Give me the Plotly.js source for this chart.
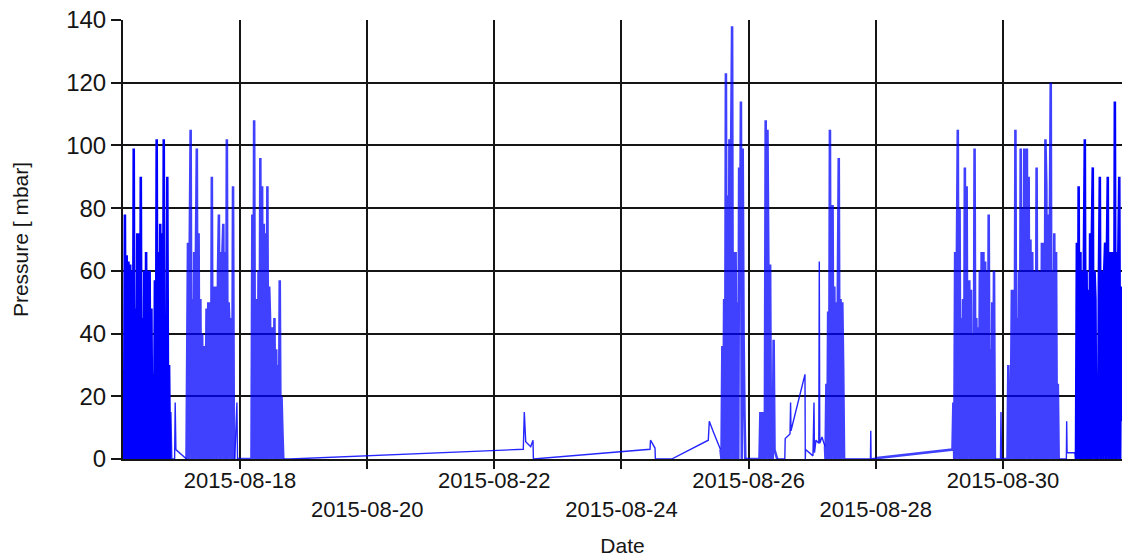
<!DOCTYPE html>
<html>
<head>
<meta charset="utf-8">
<script src="https://cdn.plot.ly/plotly-3.0.1.min.js"></script>
<style>
  html, body { margin: 0; padding: 0; background: #ffffff; }
  #chart { width: 1122px; height: 557px; }
</style>
</head>
<body>
<div id="chart"></div>
<script>
// ---- Data (pressure in mbar) ----
// Dense logging blocks: start time + readings every 20 minutes
const sampleMinutes = 20;

const block1Start = '2015-08-16 04:13';
const block1 = [0,78,0,65,0,63,0,62,0,60, 0,99,0,48,0,72,0,72,0,90, 0,45,0,60,0,66,0,60,0,60, 0,48,0,27,0,57,0,102,0,66, 0,75,0,72,0,102,0,45,0,90, 0,30,0];

const sparse1Times = ['2015-08-16 21:55','2015-08-16 22:15','2015-08-16 23:19','2015-08-16 23:32','2015-08-16 23:48','2015-08-17 03:48'];
const sparse1Values = [15,0,0,18,3,0];

const block2Start = '2015-08-17 04:22';
const block2 = [69,0,69,105,0,51,0,66,0,66, 99,0,72,0,51,0,40,0,36,0, 9,48,0,50,0,50,0,90,0,55, 45,0,55,0,60,78,0,66,0,66, 75,0,66,0,102,0,50,42,0,45, 0,87,0,0];

const sparse2Times = ['2015-08-17 22:50','2015-08-17 23:03'];
const sparse2Values = [18,0];

const block3Start = '2015-08-18 04:20';
const block3 = [0,78,0,108,9,0,51,0,60,0, 96,0,87,0,75,0,72,0,87,0, 55,45,0,25,42,0,45,0,35,0, 30,0,57,0,20,9,0];

const sparse3Times = ['2015-08-18 18:52','2015-08-22 10:56','2015-08-22 11:19','2015-08-22 11:51','2015-08-22 13:44','2015-08-22 14:36','2015-08-22 14:45','2015-08-24 10:46','2015-08-24 10:57','2015-08-24 12:39','2015-08-24 12:48','2015-08-24 18:57','2015-08-25 08:46','2015-08-25 09:09','2015-08-25 10:39','2015-08-25 13:22'];
const sparse3Values = [0,3.1,15,5.5,3.9,6,0,3.1,6,3.5,0,0,6,12,8.7,3];

const block4Start = '2015-08-25 13:45';
const block4 = [0,36,0,51,0,123,0,84,0,102, 0,102,138,0,66,0,66,0,50,0, 93,60,114,0,99,40,15,0];

const block4bStart = '2015-08-26 04:06';
const block4b = [0,15,0,15,0,15,0,108,0,105, 62,0,62,0,20,0,38,3,2,1, 0];

const sparse4Times = ['2015-08-26 13:39','2015-08-26 13:48','2015-08-26 15:37','2015-08-26 15:50','2015-08-26 15:59','2015-08-26 21:16','2015-08-26 21:23','2015-08-26 21:30','2015-08-27 00:17','2015-08-27 00:40','2015-08-27 00:51','2015-08-27 01:25','2015-08-27 02:29','2015-08-27 02:40','2015-08-27 02:51','2015-08-27 03:41','2015-08-27 04:49'];
const sparse4Values = [0,6.5,8,18,9,27,0,3,1,18,2,6,5,63,5,7,4];

const block4cStart = '2015-08-27 05:01';
const block4c = [0,24,0,47,0,105,0,60,81,0, 55,0,50,0,55,96,0,51,0,50, 29,0,0];

const sparse5Times = ['2015-08-27 21:59','2015-08-27 22:06','2015-08-27 22:13','2015-08-28 00:27'];
const sparse5Values = [0,9,0,0.3];

const block5Start = '2015-08-29 04:57';
const block5 = [3,18,0,66,0,66,105,0,80,0, 45,0,51,0,93,0,87,0,50,57, 0,54,0,40,0,99,0,45,0,42, 0,60,0,66,0,66,0,63,0,60, 0,78,0,35,0,50,0,60,0];

const sparse6Times = ['2015-08-29 23:04','2015-08-29 23:15','2015-08-29 23:27'];
const sparse6Values = [0,15,0];

const block6Start = '2015-08-30 01:42';
const block6 = [0,30,0,0,20,54,0,54,0,105, 0,45,0,60,0,99,0,80,0,99, 0,60,99,0,90,0,70,0,66,30, 0,60,0,93,0,60,0,60,0,69, 0,69,0,102,87,0,78,0,75,120, 0,60,0,72,0,66,0,24,0,0];

const sparse7Times = ['2015-08-30 23:56','2015-08-31 00:03','2015-08-31 00:12','2015-08-31 03:23'];
const sparse7Values = [0,12,2,2];

const block7Start = '2015-08-31 03:34';
const block7 = [0,69,0,87,0,66,0,60,0,66, 102,0,60,0,54,0,72,0,72,93, 0,60,51,0,23,0,60,90,0,60, 36,0,60,69,0,66,90,0,66,0, 66,0,66,0,114,0,66,0,66,90, 0,55,12];

// Axis ticks
const tickDates = ['2015-08-18','2015-08-20','2015-08-22','2015-08-24','2015-08-26','2015-08-28','2015-08-30'];
const tickLabels = ['2015-08-18','2015-08-20','2015-08-22','2015-08-24','2015-08-26','2015-08-28','2015-08-30'];
const xRange = ['2015-08-16 03:50','2015-08-31 20:56'];
const yTicks = [0,20,40,60,80,100,120,140];

// ---- helpers ----
function parseT(s) {
  const m = s.match(/(\d+)-(\d+)-(\d+) (\d+):(\d+)/);
  return Date.UTC(+m[1], +m[2]-1, +m[3], +m[4], +m[5]);
}
function fmt(ms) {
  const d = new Date(ms);
  const p = n => String(n).padStart(2,'0');
  return d.getUTCFullYear()+'-'+p(d.getUTCMonth()+1)+'-'+p(d.getUTCDate())+' '+p(d.getUTCHours())+':'+p(d.getUTCMinutes())+':'+p(d.getUTCSeconds());
}
function blockSeg(start, vals, solid) {
  const t0 = parseT(start);
  return { kind: solid ? 'solid' : 'block', x: vals.map((v,i) => fmt(t0 + i*sampleMinutes*60000)), y: vals.slice() };
}
function sparseSeg(times, vals) {
  return { kind: 'sparse', x: times.map(t => fmt(parseT(t))), y: vals.slice() };
}

const segments = [
  blockSeg(block1Start, block1, true),
  sparseSeg(sparse1Times, sparse1Values),
  blockSeg(block2Start, block2),
  sparseSeg(sparse2Times, sparse2Values),
  blockSeg(block3Start, block3),
  sparseSeg(sparse3Times, sparse3Values),
  blockSeg(block4Start, block4),
  blockSeg(block4bStart, block4b),
  sparseSeg(sparse4Times, sparse4Values),
  blockSeg(block4cStart, block4c),
  sparseSeg(sparse5Times, sparse5Values),
  blockSeg(block5Start, block5),
  sparseSeg(sparse6Times, sparse6Values),
  blockSeg(block6Start, block6),
  sparseSeg(sparse7Times, sparse7Values),
  blockSeg(block7Start, block7, true)
];

const styles = {
  solid:  {color: '#0000ff', width: 2.6},
  block:  {color: 'rgba(0,0,255,0.75)', width: 2.6},
  sparse: {color: 'rgba(0,0,255,0.85)', width: 1.4}
};

const traces = [];
segments.forEach((s, i) => {
  const x = s.x.slice(), y = s.y.slice();
  if (i > 0) { // keep the series continuous
    const p = segments[i-1];
    x.unshift(p.x[p.x.length-1]); y.unshift(p.y[p.y.length-1]);
  }
  traces.push({ type: 'scatter', mode: 'lines', x: x, y: y,
    line: Object.assign({simplify: false}, styles[s.kind]), hoverinfo: 'skip' });
});
// draw solid blocks last (on top)
traces.sort((a,b) => (a.line.color === '#0000ff') - (b.line.color === '#0000ff'));

const FONT = 'Liberation Sans, Arial, sans-serif';
const INK = '#151515';

const layout = {
  width: 1122, height: 557,
  margin: {l: 123, r: 0, t: 20, b: 98},
  paper_bgcolor: '#ffffff', plot_bgcolor: '#ffffff',
  showlegend: false,
  font: {family: FONT, color: INK},
  xaxis: {
    type: 'date', range: xRange,
    tickmode: 'array', tickvals: tickDates,
    ticktext: tickLabels.map((t,i) => i % 2 ? '<br>' + t : t),
    tickfont: {family: FONT, size: 22, color: INK},
    ticks: 'outside', ticklen: 8, tickwidth: 2, tickcolor: INK,
    ticklabelstandoff: -7,
    showgrid: true, gridcolor: INK, gridwidth: 2,
    showline: true, linecolor: INK, linewidth: 2,
    zeroline: false,
    title: {text: 'Date', font: {family: FONT, size: 21, color: INK}, standoff: 20}
  },
  yaxis: {
    range: [0, 140], tickmode: 'array', tickvals: yTicks,
    tickfont: {family: FONT, size: 24, color: INK},
    ticks: 'outside', ticklen: 10, tickwidth: 2, tickcolor: INK,
    showgrid: true, gridcolor: INK, gridwidth: 2,
    showline: true, linecolor: INK, linewidth: 2,
    zeroline: false,
    title: {text: 'Pressure [ mbar]', font: {family: FONT, size: 21, color: INK}, standoff: 32}
  }
};

Plotly.newPlot('chart', traces, layout, {staticPlot: true, displayModeBar: false});
</script>
</body>
</html>
